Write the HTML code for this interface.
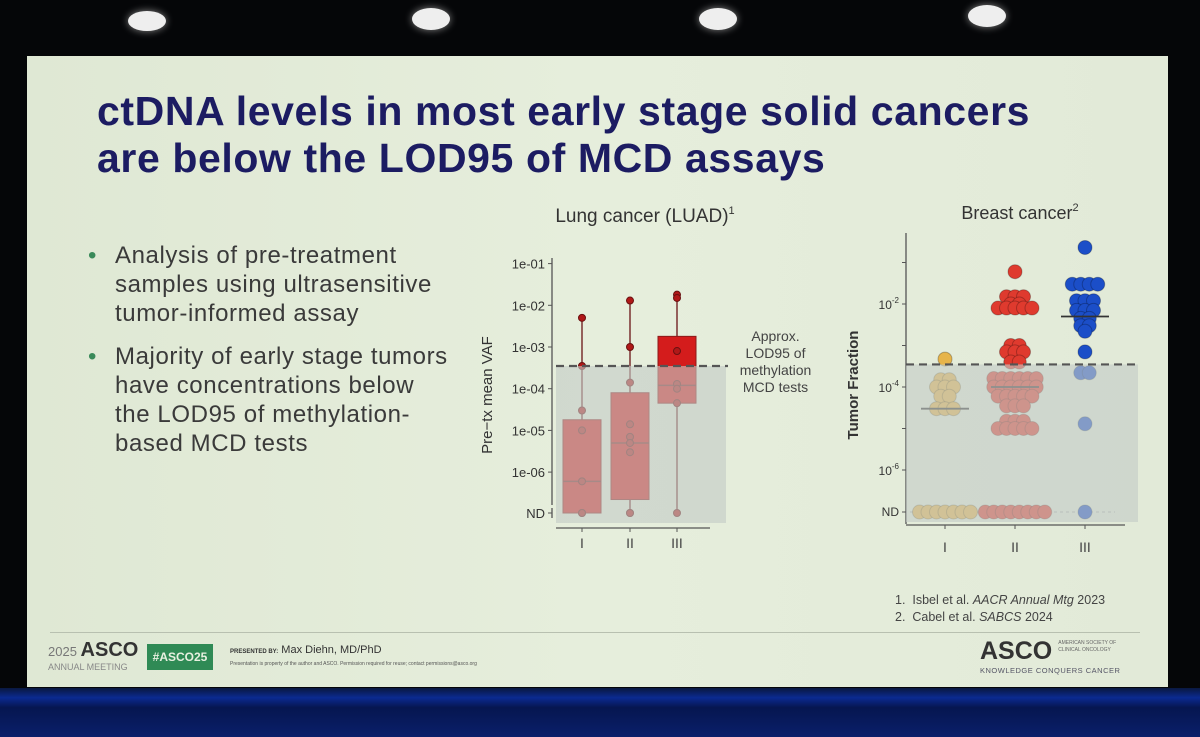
<!DOCTYPE html>
<html><head><meta charset="utf-8">
<style>
body{margin:0;width:1200px;height:737px;background:#050608;overflow:hidden;font-family:"Liberation Sans",sans-serif;position:relative}
.abs{position:absolute}
</style></head><body>
<div class="abs" style="left:0;top:688px;width:1200px;height:49px;background:linear-gradient(#0a1840,#0b2a90 20%,#061650 40%,#0a1f6a)"></div>
<div class="abs" style="left:128px;top:11px;width:38px;height:20px;border-radius:50%;background:#eee;box-shadow:0 0 8px #888"></div>
<div class="abs" style="left:412px;top:8px;width:38px;height:22px;border-radius:50%;background:#eee;box-shadow:0 0 8px #888"></div>
<div class="abs" style="left:699px;top:8px;width:38px;height:22px;border-radius:50%;background:#eee;box-shadow:0 0 8px #888"></div>
<div class="abs" style="left:968px;top:5px;width:38px;height:22px;border-radius:50%;background:#eee;box-shadow:0 0 8px #888"></div>
<div class="abs" style="left:27px;top:56px;width:1141px;height:631px;background:linear-gradient(90deg,#dfe8d4,#e6eedc 50%,#e2ead8)"></div>
<div class="abs" style="left:97px;top:88px;font-size:41px;font-weight:bold;color:#1c1c62;line-height:47px;letter-spacing:0.6px;white-space:nowrap">ctDNA levels in most early stage solid cancers<br>are below the LOD95 of MCD assays</div>
<div class="abs" style="left:88px;top:241px;font-size:24px;color:#3a3a3a;line-height:29px;letter-spacing:0.6px;white-space:nowrap">
<div style="position:relative;padding-left:27px"><span style="position:absolute;left:0;color:#3a8a5a">•</span>Analysis of pre-treatment<br>samples using ultrasensitive<br>tumor-informed assay</div>
<div style="position:relative;padding-left:27px;margin-top:14px"><span style="position:absolute;left:0;color:#3a8a5a">•</span>Majority of early stage tumors<br>have concentrations below<br>the LOD95 of methylation-<br>based MCD tests</div>
</div>
<svg class="abs" style="left:0;top:0" width="1200" height="737" font-family="Liberation Sans, sans-serif">
<g id="lung"></g>
<g id="breast"></g>
</svg>
<div class="abs" style="left:733px;top:328px;width:85px;text-align:center;font-size:14px;line-height:17px;color:#444">Approx.<br>LOD95 of<br>methylation<br>MCD tests</div>
<div class="abs" style="left:895px;top:592px;font-size:12.5px;color:#444;line-height:17px">1.&nbsp; Isbel et al. <i>AACR Annual Mtg</i> 2023<br>2.&nbsp; Cabel et al. <i>SABCS</i> 2024</div>
<div class="abs" style="left:50px;top:632px;width:1090px;height:1px;background:#b8c0b0"></div>
<div class="abs" style="left:48px;top:643px;color:#555;line-height:14px"><span style="font-size:13px;color:#777">2025 </span><span style="font-size:20px;font-weight:bold;color:#333">ASCO</span><br><span style="font-size:9px;color:#888">ANNUAL MEETING</span></div>
<div class="abs" style="left:147px;top:644px;width:66px;height:26px;background:#2f8a55;color:#e8f0e0;font-size:12px;font-weight:bold;line-height:26px;text-align:center">#ASCO25</div>
<div class="abs" style="left:230px;top:644px;font-size:11px;color:#333"><span style="font-size:6px;font-weight:bold">PRESENTED BY:</span> Max Diehn, MD/PhD<br><span style="font-size:5px;color:#555">Presentation is property of the author and ASCO. Permission required for reuse; contact permissions@asco.org</span></div>
<div class="abs" style="left:980px;top:637px;color:#333"><span style="font-size:25px;font-weight:bold">ASCO</span><span style="font-size:5px;color:#666;display:inline-block;margin-left:6px;vertical-align:8px;line-height:7px">AMERICAN SOCIETY OF<br>CLINICAL ONCOLOGY</span><div style="font-size:7.5px;color:#556;letter-spacing:0.5px">KNOWLEDGE CONQUERS CANCER</div></div>
<script>
const NS='http://www.w3.org/2000/svg';
function mk(p,t,a){const e=document.createElementNS(NS,t);for(const k in a)e.setAttribute(k,a[k]);p.appendChild(e);return e;}
// ---- Lung data ----
const lungCats=['I','II','III'];
const lungTicks=['1e-01','1e-02','1e-03','1e-04','1e-05','1e-06'];
const lungBoxLow=[null,2.2e-7,4.5e-5]; // null = ND
const lungBoxHigh=[1.8e-5,8e-5,1.8e-3];
const lungMedian=[6e-7,5e-6,1.2e-4];
const lungWhiskerHigh=[5e-3,1.3e-2,1.8e-2];
const lungPointsI=[5e-3,3.5e-4,3e-5,1e-5,6e-7,null,null];
const lungPointsII=[1.3e-2,1e-3,1.4e-4,1.4e-5,7e-6,5e-6,3e-6,null,null];
const lungPointsIII=[1.8e-2,1.5e-2,8e-4,1.3e-4,1e-4,4.5e-5,null];
const lod=3.5e-4;
// ---- Breast data ----
const breastCats=['I','II','III'];
const breastTickExp=[-2,-4,-6];
const breastI=[4.7e-4,1.5e-4,1.5e-4,1e-4,1e-4,1e-4,6e-5,6e-5,3e-5,3e-5,3e-5,null,null,null,null,null,null,null];
const breastII=[6e-2,1.5e-2,1.5e-2,1.5e-2,1e-2,1e-2,8e-3,8e-3,8e-3,8e-3,8e-3,1e-3,1e-3,7e-4,7e-4,7e-4,4e-4,4e-4,1.6e-4,1.6e-4,1.6e-4,1.6e-4,1.6e-4,1.6e-4,1e-4,1e-4,1e-4,1e-4,1e-4,1e-4,6e-5,6e-5,6e-5,6e-5,6e-5,3.5e-5,3.5e-5,3.5e-5,1.5e-5,1.5e-5,1.5e-5,1e-5,1e-5,1e-5,1e-5,1e-5,null,null,null,null,null,null,null,null];
const breastIII=[2.3e-1,3e-2,3e-2,3e-2,3e-2,1.2e-2,1.2e-2,1.2e-2,7e-3,7e-3,7e-3,4.5e-3,4.5e-3,3e-3,3e-3,2.2e-3,7e-4,2.2e-4,2.2e-4,1.3e-5,null];
const breastMedian=[3e-5,1e-4,5e-3];

// ---- Lung chart ----
(function(){
const g=document.getElementById('lung');
const y=v=>v===null?513:347-41.7*(Math.log10(v)+3);
const xc=[582,630,677];
const t=mk(g,'text',{x:645,y:222,'text-anchor':'middle','font-size':19,fill:'#333'});t.textContent='Lung cancer (LUAD)';

const sup=mk(t,'tspan',{'font-size':11,dy:-8});sup.textContent='1';
mk(g,'line',{x1:552,y1:258,x2:552,y2:505,stroke:'#555','stroke-width':1.3});
mk(g,'line',{x1:552,y1:508,x2:552,y2:518,stroke:'#555','stroke-width':1.3});
mk(g,'line',{x1:556,y1:528,x2:710,y2:528,stroke:'#555','stroke-width':1.3});
lungTicks.forEach(s=>{const v=parseFloat(s);const yy=y(v);
 mk(g,'line',{x1:548,y1:yy,x2:552,y2:yy,stroke:'#555'});
 const e=mk(g,'text',{x:545,y:yy+5,'text-anchor':'end','font-size':13,fill:'#333'});e.textContent=s;
 });
mk(g,'line',{x1:548,y1:513,x2:552,y2:513,stroke:'#555'});
const nd=mk(g,'text',{x:545,y:518,'text-anchor':'end','font-size':13,fill:'#333'});nd.textContent='ND';
const yt=mk(g,'text',{x:0,y:0,transform:'translate(492,395) rotate(-90)','text-anchor':'middle','font-size':15,fill:'#333'});yt.textContent='Pre−tx mean VAF';

const pts=[lungPointsI,lungPointsII,lungPointsIII];
lungCats.forEach((c,i)=>{
 const x=xc[i];
 const lab=mk(g,'text',{x:x,y:548,'text-anchor':'middle','font-size':14,fill:'#444'});lab.textContent=c;
 
 mk(g,'line',{x1:x,y1:528,x2:x,y2:532,stroke:'#555'});
 mk(g,'line',{x1:x,y1:y(lungWhiskerHigh[i]),x2:x,y2:513,stroke:'#7a3030','stroke-width':1.5});
 const top=y(lungBoxHigh[i]),bot=y(lungBoxLow[i]);
 const b=mk(g,'rect',{x:x-19,y:top,width:38,height:bot-top,fill:'#d41c1c',stroke:'#8a1a1a','stroke-width':1});
 
 mk(g,'line',{x1:x-19,y1:y(lungMedian[i]),x2:x+19,y2:y(lungMedian[i]),stroke:'#7a2020','stroke-width':1.5});
 pts[i].forEach(v=>{const p=mk(g,'circle',{cx:x,cy:y(v),r:3.5,fill:'#b01818',stroke:'#6a1010'});
  });
});
const sh=mk(g,'rect',{x:556,y:y(lod),width:170,height:523-y(lod),fill:'#c4cbc6','fill-opacity':0.62});

const dl=mk(g,'line',{x1:556,y1:y(lod),x2:728,y2:y(lod),stroke:'#555','stroke-width':2.2,'stroke-dasharray':'8,5'});

})();

// ---- Breast chart ----
(function(){
const g=document.getElementById('breast');
const y=v=>v===null?512:387-41.5*(Math.log10(v)+4);
const xc=[945,1015,1085];
const t=mk(g,'text',{x:1020,y:219,'text-anchor':'middle','font-size':18,fill:'#333'});t.textContent='Breast cancer';

const sup=mk(t,'tspan',{'font-size':11,dy:-8});sup.textContent='2';
mk(g,'line',{x1:906,y1:233,x2:906,y2:524,stroke:'#555','stroke-width':1.3});
mk(g,'line',{x1:906,y1:525,x2:1125,y2:525,stroke:'#555','stroke-width':1.3});
for(let e=-1;e>=-6;e--){const yy=y(Math.pow(10,e));mk(g,'line',{x1:902,y1:yy,x2:906,y2:yy,stroke:'#555'});}
breastTickExp.forEach(e=>{const yy=y(Math.pow(10,e));
 const tx=mk(g,'text',{x:899,y:yy+5,'text-anchor':'end','font-size':12,fill:'#333'});tx.textContent='10';
 
 const s=mk(tx,'tspan',{'font-size':8,dy:-6});s.textContent=String(e);});
mk(g,'line',{x1:902,y1:512,x2:906,y2:512,stroke:'#555'});
const nd=mk(g,'text',{x:899,y:516,'text-anchor':'end','font-size':12,fill:'#333'});nd.textContent='ND';
mk(g,'line',{x1:910,y1:512,x2:1115,y2:512,stroke:'#aaa','stroke-dasharray':'3,3'});
const yt=mk(g,'text',{x:0,y:0,transform:'translate(858,385) rotate(-90)','text-anchor':'middle','font-size':15,'font-weight':'bold',fill:'#333'});yt.textContent='Tumor Fraction';

const data=[breastI,breastII,breastIII];
const cols=['#e6b44a','#df3a2e','#1b4ec8'];
breastCats.forEach((c,i)=>{
 const x=xc[i];
 const lab=mk(g,'text',{x:x,y:552,'text-anchor':'middle','font-size':14,fill:'#444'});lab.textContent=c;
 
 mk(g,'line',{x1:x,y1:525,x2:x,y2:529,stroke:'#555'});
 const groups={};
 data[i].forEach(v=>{const k=String(v);(groups[k]=groups[k]||[]).push(v);});
 Object.values(groups).forEach(arr=>{
  const n=arr.length,sp=8.5;
  arr.forEach((v,j)=>{const cx=x+(j-(n-1)/2)*sp;
   const p=mk(g,'circle',{cx:cx,cy:y(v),r:7,fill:cols[i],stroke:'rgba(0,0,0,0.25)','stroke-width':1});
   });
 });
 const m=mk(g,'line',{x1:x-24,y1:y(breastMedian[i]),x2:x+24,y2:y(breastMedian[i]),stroke:'#333','stroke-width':1.8});
 
});
const sh=mk(g,'rect',{x:906,y:y(lod),width:232,height:522-y(lod),fill:'#c4cbc6','fill-opacity':0.62});

const dl=mk(g,'line',{x1:906,y1:y(lod),x2:1140,y2:y(lod),stroke:'#555','stroke-width':2.2,'stroke-dasharray':'8,5'});

})();
</script>
</body></html>
